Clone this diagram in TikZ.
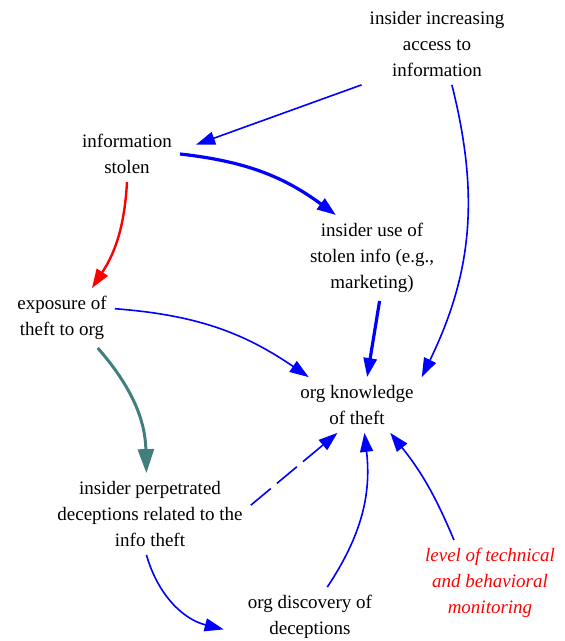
\documentclass[tikz,border=0pt]{standalone}
\definecolor{LinkBlue}{HTML}{0000FF}
\definecolor{LinkRed}{HTML}{FF0000}
\definecolor{LinkTeal}{HTML}{417F7F}
\definecolor{TextBlack}{HTML}{000000}
\usepackage{fontspec}
\setmainfont{Liberation Serif}
\usepackage{tikz}
\usetikzlibrary{arrows.meta, positioning}
\tikzset{
    % Plain factor
    factor/.style={
        rectangle,
        inner sep=8pt,
        align=center,
        text=TextBlack,
        font=\fontsize{19}{26}\selectfont
    },
    % Policy lever
    lever/.style={
        factor,
        text=LinkRed,
        font=\fontsize{19}{26}\selectfont\itshape
    },
    % Thin link
    link/.style={
        -{Triangle[length=19pt,width=13pt]},
        line width=1.6pt,
        color=LinkBlue
    },
    % Strong link
    strong/.style={
        link,
        line width=3.2pt
    },
    % Delayed link
    delayed/.style={
        link,
        dash pattern=on 26pt off 8pt
    }
}
\begin{document}
\begin{tikzpicture}[x=1pt, y=-1pt]
    \useasboundingbox (0,0) rectangle (565,641);

    \node (access) [factor] at (437,44) {insider increasing\\access to\\information};
    \node (stolen) [factor] at (127,154) {information\\stolen};
    \node (use) [factor] at (372,258) {insider use of\\stolen info (e.g.,\\marketing)};
    \node (exposure) [factor] at (62,318) {exposure of\\theft to org};
    \node (knowledge) [factor] at (357,405) {org knowledge\\of theft};
    \node (deceptions) [factor] at (150,514) {insider perpetrated\\deceptions related to the\\info theft};
    \node (discovery) [factor] at (310,617) {org discovery of\\deceptions};
    \node (monitoring) [lever] at (490,583) {level of technical\\and behavioral\\monitoring};

    \draw [link] (access.south west) -- ([xshift=16pt]stolen.10);
    \draw [link] (access.-70) to[bend left=20] (knowledge.north east);
    \draw [strong] (stolen.east) to[bend left=15] (use.130);
    \draw [link, color=LinkRed, line width=2.4pt] (stolen.south) to[bend left=15] (exposure.45);
    \draw [strong] (use.-80) -- (knowledge.70);
    \draw [link] (exposure.10) to[bend left=15] (knowledge.150);
    \draw [link, color=LinkTeal, line width=3pt, -{Triangle[length=24pt,width=16pt]}] (exposure.-40) to[bend left=20] (deceptions.95);
    \draw [delayed] (deceptions.5) -- (knowledge.-125);
    \draw [link] (deceptions.-95) to[bend right=30] ([xshift=-16pt]discovery.190);
    \draw [link] (discovery.60) to[bend right=20] (knowledge.-75);
    \draw [link] (monitoring.130) to[bend right=8] (knowledge.-40);
\end{tikzpicture}
\end{document}
